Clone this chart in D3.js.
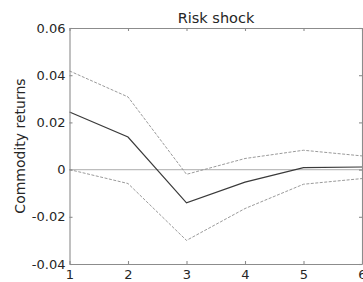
<!DOCTYPE html>
<html lang="en">
<head>
<meta charset="UTF-8">
<title>Risk shock</title>
<script src="https://d3js.org/d3.v7.min.js"></script>
<style>
    body { margin: 0; background: #fff; }
    svg text { font-family: "DejaVu Sans", sans-serif; fill: #262626; }
</style>
</head>
<body>
<svg id="chart"></svg>
<script>
// horizons and impulse responses
const horizons = [1, 2, 3, 4, 5, 6];
const median = [0.0244, 0.0138, -0.0141, -0.0053, 0.0008, 0.0011];
const upper = [0.0418, 0.0308, -0.0020, 0.0047, 0.0082, 0.0058];
const lower = [0.0000, -0.0059, -0.0300, -0.0165, -0.0062, -0.0038];
const yTicks = [-0.04, -0.02, 0, 0.02, 0.04, 0.06];
const yTickLabels = ["-0.04", "-0.02", "0", "0.02", "0.04", "0.06"];

const width = 363, height = 282;
const margin = { top: 28, right: 1, bottom: 18, left: 69.5 };

const svg = d3.select("#chart").attr("width", width).attr("height", height);

const x = d3.scaleLinear().domain([1, 6]).range([margin.left, width - margin.right]);
const y = d3.scaleLinear().domain([-0.04, 0.06]).range([height - margin.bottom, margin.top]);

// zero line
svg.append("line")
    .attr("x1", x(1)).attr("x2", x(6))
    .attr("y1", y(0)).attr("y2", y(0))
    .attr("stroke", "#bdbdbd").attr("stroke-width", 1.2);

const line = d3.line().x((d, i) => x(horizons[i])).y(d => y(d));

// confidence bands (fine dashes)
[upper, lower].forEach(s => {
    svg.append("path")
        .datum(s)
        .attr("d", line)
        .attr("fill", "none")
        .attr("stroke", "#8f8f8f")
        .attr("stroke-width", 0.9)
        .attr("stroke-dasharray", "3,1.5");
});

svg.append("path")
    .datum(median)
    .attr("d", line)
    .attr("fill", "none")
    .attr("stroke", "#3a3a3a")
    .attr("stroke-width", 1.2);

// axes, ticks pointing inward like matlab
const axisColor = "#8c8c8c";
const xAxisBottom = svg.append("g")
    .attr("transform", "translate(0," + y(-0.04) + ")")
    .call(d3.axisBottom(x).tickValues(horizons).tickFormat(d3.format("d")).tickSizeInner(-3).tickSizeOuter(0).tickPadding(6));
const xAxisTop = svg.append("g")
    .attr("transform", "translate(0," + y(0.06) + ")")
    .call(d3.axisTop(x).tickValues(horizons).tickFormat("").tickSizeInner(-3).tickSizeOuter(0));
const yAxisLeft = svg.append("g")
    .attr("transform", "translate(" + x(1) + ",0)")
    .call(d3.axisLeft(y).tickValues(yTicks).tickFormat((d, i) => yTickLabels[i]).tickSizeInner(-3).tickSizeOuter(0).tickPadding(4));
const yAxisRight = svg.append("g")
    .attr("transform", "translate(" + x(6) + ",0)")
    .call(d3.axisRight(y).tickValues(yTicks).tickFormat("").tickSizeInner(-3).tickSizeOuter(0));

[xAxisBottom, xAxisTop, yAxisLeft, yAxisRight].forEach(g => {
    g.selectAll("path, line").attr("stroke", axisColor).attr("stroke-width", 1.1);
    g.selectAll("text").style("font-size", "13px").attr("fill", "#262626");
});

svg.append("text")
    .attr("x", 216).attr("y", 23)
    .attr("text-anchor", "middle")
    .style("font-size", "14.5px")
    .text("Risk shock");

svg.append("text")
    .attr("transform", "translate(25," + y(0.01) + ") rotate(-90)")
    .attr("text-anchor", "middle")
    .style("font-size", "14px")
    .text("Commodity returns");
</script>
</body>
</html>
